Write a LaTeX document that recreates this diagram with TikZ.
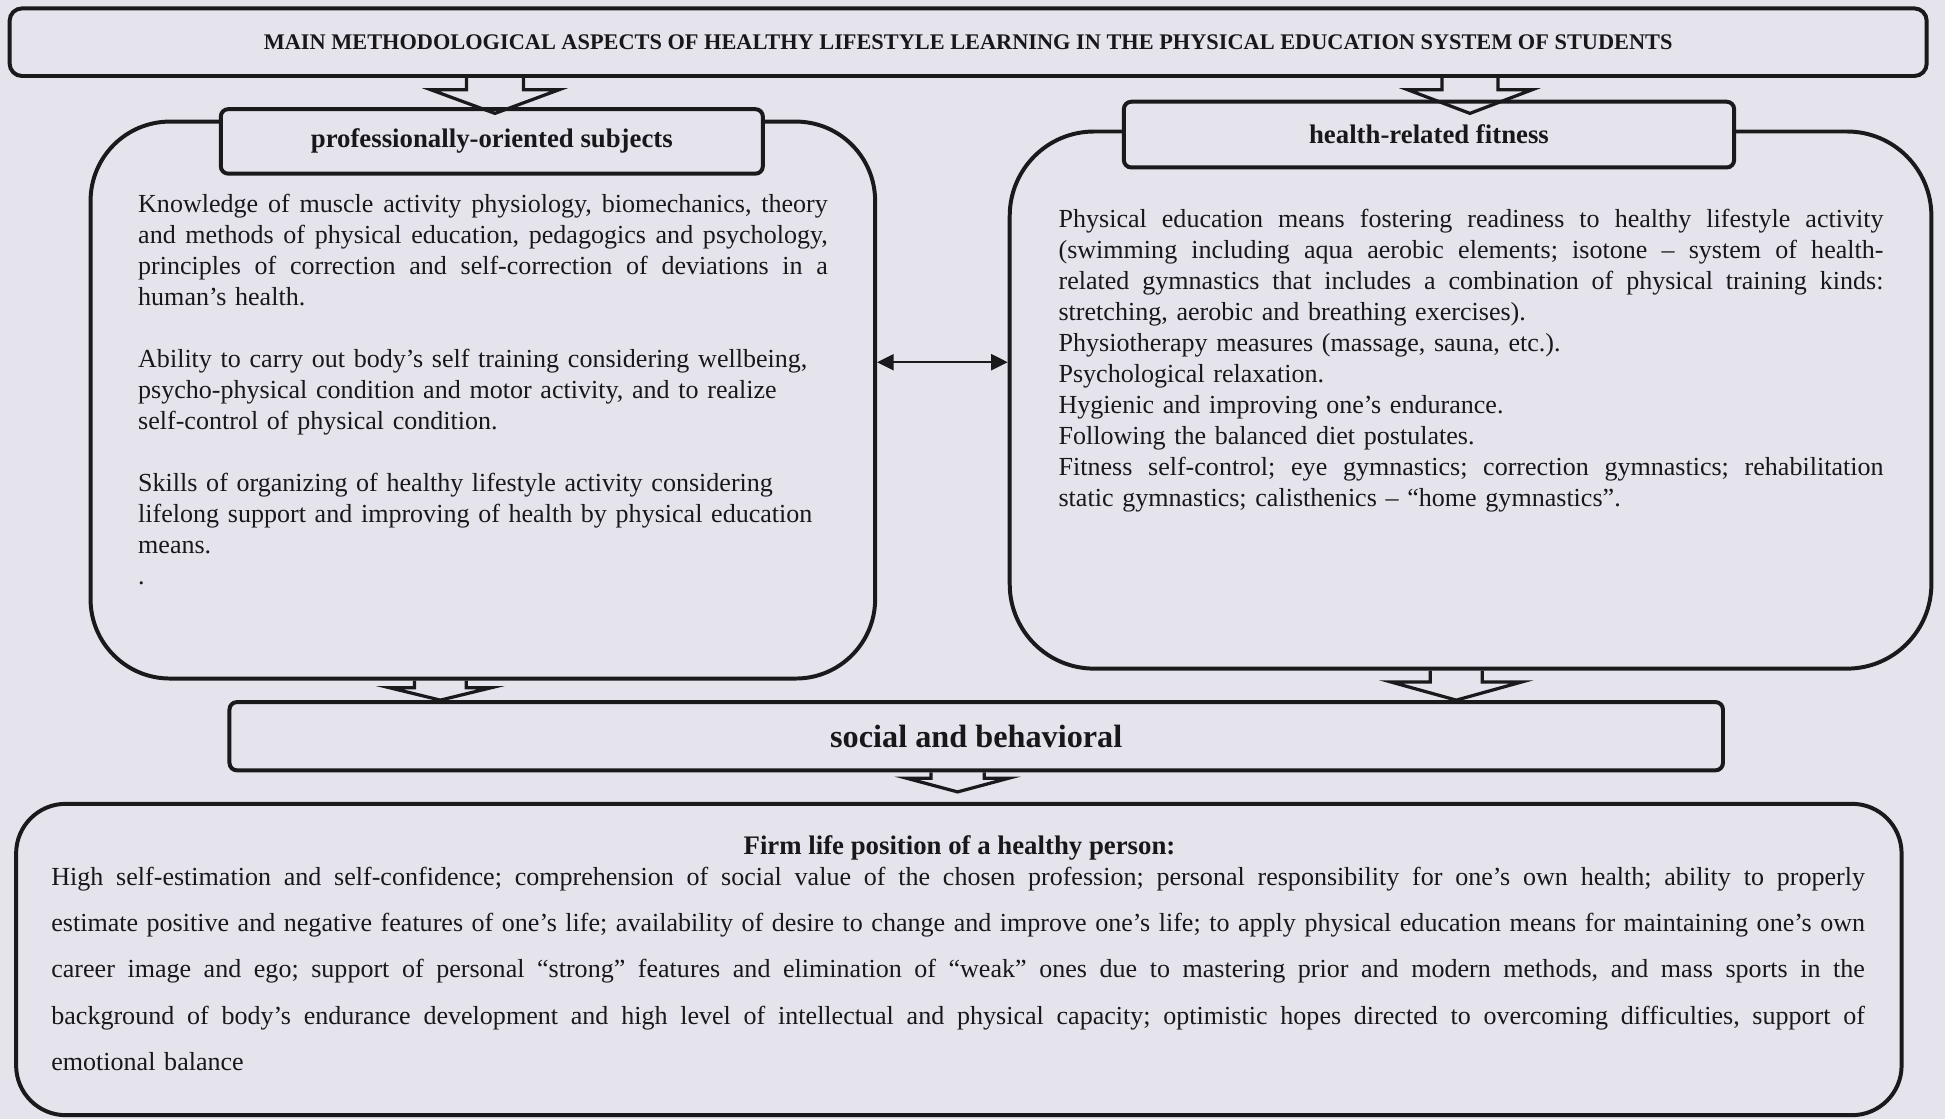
\documentclass[tikz,border=0pt]{standalone}
\usepackage{fontspec}
\setmainfont{Liberation Serif}
\usetikzlibrary{calc,arrows.meta}
\definecolor{bg}{RGB}{229,228,237}
\definecolor{ink}{RGB}{26,26,28}
\definecolor{txt}{RGB}{24,24,26}
% justified line of a given width
\newcommand\jl[2]{\leavevmode\hbox to #1{\frenchspacing\spaceskip=0.25em plus 3em minus 0.12em\relax #2}}
% block arrow: #1 start (on source box), #2 tip, #3 shaft half width, #4 head half width, #5 head length
\newcommand\blockarrow[5]{%
  \draw[barrow] let \p1=(#1), \p2=(#2) in
    (\x2-#3,\y1) -- (\x2-#3,\y2+#5) -- (\x2-#4,\y2+#5) -- (\x2,\y2)
    -- (\x2+#4,\y2+#5) -- (\x2+#3,\y2+#5) -- (\x2+#3,\y1);}
\begin{document}
\begin{tikzpicture}[x=0.5pt,y=-0.5pt,
  box/.style={draw=ink,line width=1.6pt,rounded corners=3pt,fill=bg,inner sep=0pt,text=txt},
  bigbox/.style={draw=ink,line width=1.6pt,inner sep=0pt},
  hfont/.style={font=\bfseries\fontsize{10.8}{13}\selectfont},
  body/.style={inner sep=0pt,text=txt,font=\fontsize{10.5}{12.5}\selectfont\frenchspacing,align=left,anchor=base west},
  barrow/.style={draw=ink,line width=1.3pt,line join=miter},
  dbl/.style={draw=ink,line width=0.8pt,{Triangle[length=6.7pt,width=6.5pt]}-{Triangle[length=6.7pt,width=6.5pt]}}
]
\path[fill=bg] (0,0) rectangle (1568,902);
\useasboundingbox (0,0) rectangle (1568,902);

% boxes
\node[box,rounded corners=5pt,minimum width=772.75pt,minimum height=27.25pt,font=\bfseries\fontsize{9}{11}\selectfont] (title) at (780.5,34)
  {MAIN METHODOLOGICAL ASPECTS OF HEALTHY LIFESTYLE LEARNING IN THE PHYSICAL EDUCATION SYSTEM OF STUDENTS};
\node[bigbox,rounded corners=32pt,minimum width=316.25pt,minimum height=224.5pt] (bigL) at (389.25,322.5) {};
\node[bigbox,rounded corners=34pt,minimum width=371.5pt,minimum height=216.5pt] (bigR) at (1185.5,322.5) {};
\node[box,hfont,minimum width=218.5pt,minimum height=26pt] (hdrL) at (396.5,114) {professionally-oriented subjects};
\node[box,hfont,minimum width=246pt,minimum height=26.5pt] (hdrR) at (1152,108.5) {health-related fitness};
\node[box,minimum width=602pt,minimum height=27.5pt,font=\bfseries\fontsize{13}{15}\selectfont] (social) at (787,593.5) {social and behavioral};
\node[bigbox,rounded corners=20pt,minimum width=760pt,minimum height=125.5pt] (bottom) at (773,773.5) {};

% texts
\node[body,text width=278pt] (txtL) at (111,171) {%
\jl{278pt}{Knowledge of muscle activity physiology, biomechanics, theory}\\
\jl{278pt}{and methods of physical education, pedagogics and psychology,}\\
\jl{278pt}{principles of correction and self-correction of deviations in a}\\
human’s health.\\[12.5pt]
Ability to carry out body’s self training considering wellbeing,\\
psycho-physical condition and motor activity, and to realize\\
self-control of physical condition.\\[12.5pt]
Skills of organizing of healthy lifestyle activity considering\\
lifelong support and improving of health by physical education\\
means.\\
.};

\node[body,text width=332.5pt] (txtR) at (853,183) {%
\jl{332.5pt}{Physical education means fostering readiness to healthy lifestyle activity}\\
\jl{332.5pt}{(swimming including aqua aerobic elements; isotone – system of health-}\\
\jl{332.5pt}{related gymnastics that includes a combination of physical training kinds:}\\
stretching, aerobic and breathing exercises).\\
Physiotherapy measures (massage, sauna, etc.).\\
Psychological relaxation.\\
Hygienic and improving one’s endurance.\\
Following the balanced diet postulates.\\
\jl{332.5pt}{Fitness self-control; eye gymnastics; correction gymnastics; rehabilitation}\\
static gymnastics; calisthenics – “home gymnastics”.};

\node[inner sep=0pt,text=txt,hfont,anchor=base] (bhead) at (773.5,689) {Firm life position of a healthy person:};
\node[body,text width=731pt,font=\fontsize{10.5}{18.7}\selectfont\frenchspacing] (txtB) at (41,713.5) {%
\jl{731pt}{High self-estimation and self-confidence; comprehension of social value of the chosen profession; personal responsibility for one’s own health; ability to properly}\\
\jl{731pt}{estimate positive and negative features of one’s life; availability of desire to change and improve one’s life; to apply physical education means for maintaining one’s own}\\
\jl{731pt}{career image and ego; support of personal “strong” features and elimination of “weak” ones due to mastering prior and modern methods, and mass sports in the}\\
\jl{731pt}{background of body’s endurance development and high level of intellectual and physical capacity; optimistic hopes directed to overcoming difficulties, support of}\\
emotional balance};

% connectors
\coordinate (a1) at (399,0);
\coordinate (a2) at (1185,0);
\coordinate (a3) at (355,0);
\coordinate (a4) at (1174,0);
\coordinate (a5) at (772,0);
\coordinate (dm) at (0,292);
\blockarrow{title.south -| a1}{$(hdrL.north -| a1)+(0,5)$}{11.5pt}{25.75pt}{9.5pt}
\blockarrow{title.south -| a2}{$(hdrR.north -| a2)+(0,11)$}{11.3pt}{25pt}{9.5pt}
\blockarrow{bigL.south -| a3}{social.north -| a3}{10.4pt}{20.5pt}{5pt}
\blockarrow{bigR.south -| a4}{social.north -| a4}{10.5pt}{26.3pt}{7.3pt}
\blockarrow{social.south -| a5}{$(bottom.north -| a5)+(0,-8)$}{10.75pt}{20.5pt}{5.5pt}
\draw[dbl] (bigL.east |- dm) -- (bigR.west |- dm);
\end{tikzpicture}
\end{document}
